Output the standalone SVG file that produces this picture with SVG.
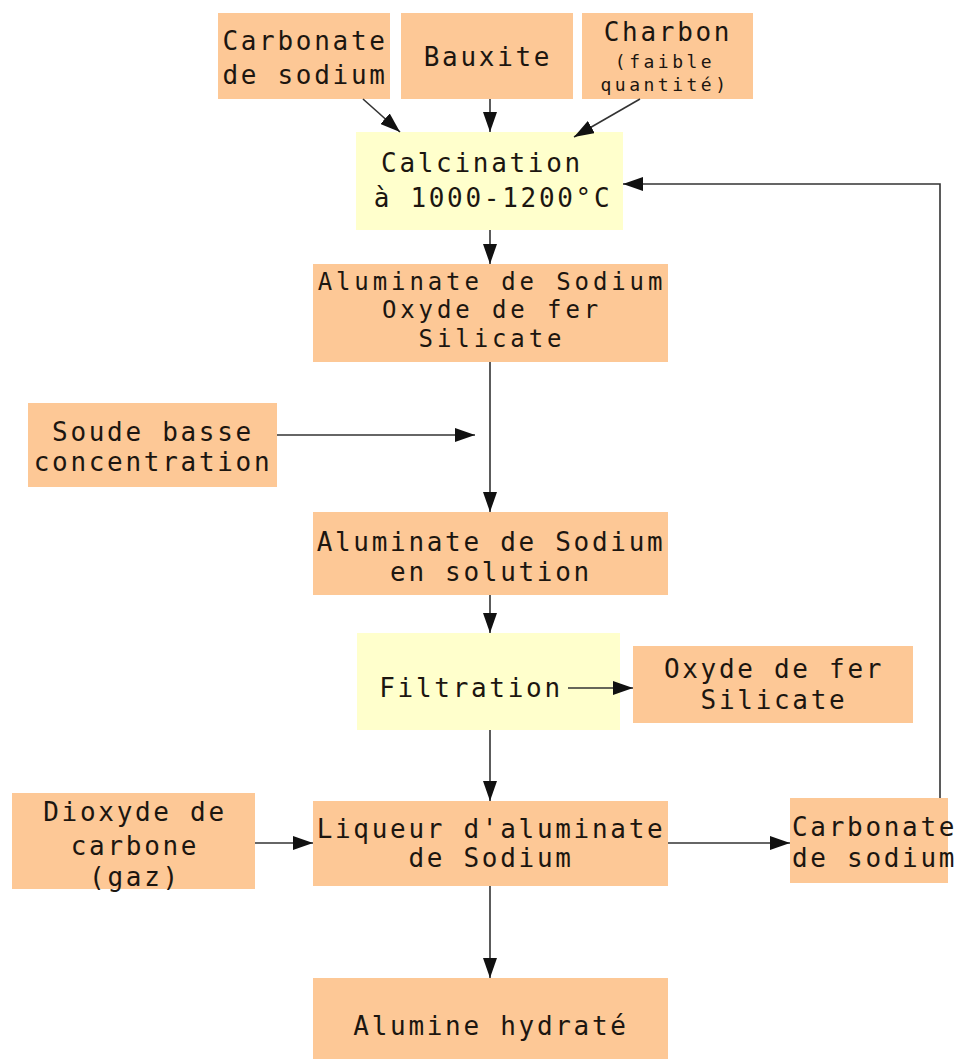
<svg xmlns="http://www.w3.org/2000/svg" width="963" height="1059" viewBox="0 0 963 1059">
<defs>
<style>
.o{fill:#FDC896;}
.y{fill:#FFFFCC;}
text{font-family:"DejaVu Sans Mono","Liberation Mono",monospace;font-size:26px;letter-spacing:2.7px;fill:#1c1610;text-anchor:middle;}
.s{font-size:18px;letter-spacing:3.5px;}
.m{font-size:24px;letter-spacing:3.9px;}
.st{text-anchor:start;}
.c{stroke:#333;stroke-width:1.6;fill:none;marker-end:url(#ah);}
</style>
<marker id="ah" markerUnits="userSpaceOnUse" markerWidth="20" markerHeight="14" refX="20" refY="7" orient="auto">
<path d="M0,0 L20,7 L0,14 z" fill="#111"/>
</marker>
</defs>
<rect width="963" height="1059" fill="#fff"/>
<g id="n_carb_top"><rect class="o" x="218" y="13" width="172" height="86"/><text x="305" y="50">Carbonate</text><text x="305" y="84">de sodium</text></g>
<g id="n_bauxite"><rect class="o" x="401" y="13" width="172" height="86"/><text x="488" y="66">Bauxite</text></g>
<g id="n_charbon"><rect class="o" x="582" y="13" width="171" height="86"/><text x="668" y="41">Charbon</text><text class="s" x="665" y="68">(faible</text><text class="s" x="665" y="91">quantité)</text></g>
<g id="n_calcination"><rect class="y" x="356" y="132" width="267" height="98"/><text x="482" y="172">Calcination</text><text x="493" y="207">à 1000-1200°C</text></g>
<g id="n_aluminate1"><rect class="o" x="313" y="264" width="355" height="98"/><text class="m" x="492" y="290">Aluminate de Sodium</text><text class="m" x="492" y="318">Oxyde de fer</text><text class="m" x="492" y="347">Silicate</text></g>
<g id="n_soude"><rect class="o" x="28" y="403" width="249" height="84"/><text x="153" y="441">Soude basse</text><text x="153" y="471">concentration</text></g>
<g id="n_aluminate2"><rect class="o" x="313" y="512" width="355" height="83"/><text x="491" y="551">Aluminate de Sodium</text><text x="491" y="581">en solution</text></g>
<g id="n_filtration"><rect class="y" x="357" y="633" width="263" height="97"/><text x="471" y="697">Filtration</text></g>
<g id="n_oxyde"><rect class="o" x="633" y="646" width="280" height="77"/><text x="774" y="678">Oxyde de fer</text><text x="774" y="709">Silicate</text></g>
<g id="n_dioxyde"><rect class="o" x="12" y="793" width="243" height="96"/><text x="135" y="821">Dioxyde de</text><text x="135" y="855">carbone</text><text x="135" y="886">(gaz)</text></g>
<g id="n_liqueur"><rect class="o" x="313" y="801" width="355" height="85"/><text x="491" y="838">Liqueur d'aluminate</text><text x="491" y="867">de Sodium</text></g>
<g id="n_carb_right"><rect class="o" x="790" y="798" width="158" height="85"/><text class="st" x="792" y="836">Carbonate</text><text class="st" x="792" y="867">de sodium</text></g>
<g id="n_alumine"><rect class="o" x="313" y="978" width="355" height="81"/><text x="491" y="1035">Alumine hydraté</text></g>
<g id="connectors">
<line class="c" x1="363" y1="99" x2="400" y2="132"/>
<line class="c" x1="490" y1="99" x2="490" y2="132"/>
<line class="c" x1="640" y1="99" x2="574" y2="137"/>
<polyline class="c" points="940,798 940,184 623,184"/>
<line class="c" x1="490" y1="230" x2="490" y2="264"/>
<line class="c" x1="490" y1="362" x2="490" y2="512"/>
<line class="c" x1="277" y1="435" x2="475" y2="435"/>
<line class="c" x1="490" y1="595" x2="490" y2="633"/>
<line class="c" x1="568" y1="688" x2="633" y2="688"/>
<line class="c" x1="490" y1="730" x2="490" y2="801"/>
<line class="c" x1="255" y1="843" x2="313" y2="843"/>
<line class="c" x1="668" y1="843" x2="790" y2="843"/>
<line class="c" x1="490" y1="886" x2="490" y2="978"/>
</g>
</svg>
